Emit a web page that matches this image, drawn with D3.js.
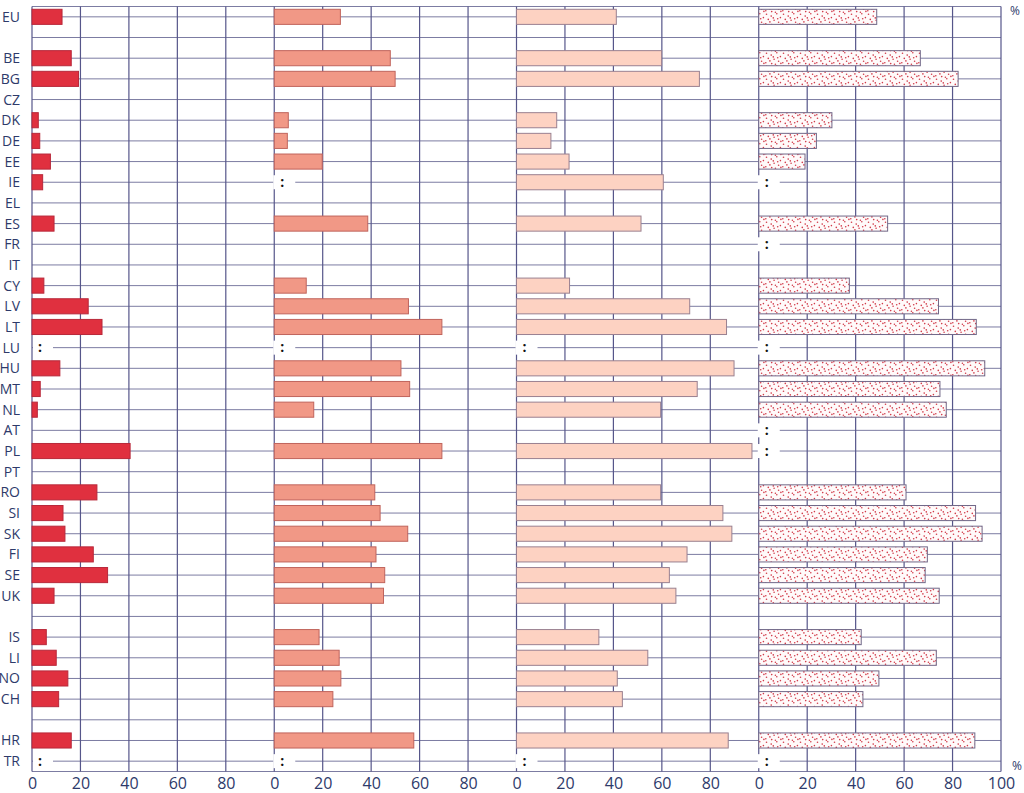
<!DOCTYPE html>
<html>
    <head>
        <meta charset="UTF-8">
        <script src="https://d3js.org/d3.v7.min.js"></script>
        <style>
            body { margin: 0; background: #fff; }
            text { font-family: "Open Sans", sans-serif; fill: #2e3a6a; }
        </style>
    </head>
    <body>
        <div id="chart"></div>
        <script type="text/javascript">
            // rows, "" = spacer row
            var rows = ["EU", "", "BE", "BG", "CZ", "DK", "DE", "EE", "IE", "EL", "ES", "FR", "IT", "CY", "LV", "LT", "LU",
                        "HU", "MT", "NL", "AT", "PL", "PT", "RO", "SI", "SK", "FI", "SE", "UK", "", "IS", "LI", "NO", "CH",
                        "", "HR", "TR"];

            // null = nothing shown, ":" = not available
            var N = null, NA = ":";
            var series1 = [12.4, N, 16.2, 19.2, N, 2.6, 3.2, 7.6, 4.4, N, 9.1, N, N, 4.9, 23.2, 28.9, NA,
                           11.5, 3.4, 2.2, N, 40.5, N, 26.8, 12.8, 13.6, 25.3, 31.2, 9.1, N, 5.9, 10.0, 14.8, 11.0,
                           N, 16.2, NA];
            var series2 = [27.3, N, 47.9, 49.9, N, 5.8, 5.4, 19.8, NA, N, 38.6, N, N, 13.2, 55.4, 69.2, NA,
                           52.3, 55.9, 16.3, N, 69.2, N, 41.5, 43.7, 55.1, 42.0, 45.6, 45.1, N, 18.5, 26.8, 27.5, 24.2,
                           N, 57.6, NA];
            var series3 = [41.2, N, 59.9, 75.5, N, 16.6, 14.2, 21.7, 60.6, N, 51.4, N, N, 21.9, 71.5, 86.7, NA,
                           89.8, 74.6, 59.5, N, 97.2, N, 59.5, 85.2, 88.9, 70.4, 63.1, 65.8, N, 34.0, 54.2, 41.6, 43.7,
                           N, 87.4, NA];
            var series4 = [48.7, N, 66.7, 82.3, N, 30.2, 23.8, 19.1, NA, N, 53.2, NA, N, 37.4, 74.2, 89.8, NA,
                           93.3, 74.8, 77.4, NA, NA, N, 60.8, 89.5, 92.2, 69.6, 68.7, 74.5, N, 42.3, 73.3, 49.6, 43.0,
                           N, 89.2, NA];

            var tickValues = [0, 20, 40, 60, 80];
            var tickValuesLast = [0, 20, 40, 60, 80, 100];

            var width = 1024, height = 793;
            var left = 32, panelW = 242.25;
            var topY = 6.5, bottomY = 771.5;

            var panels = [
                {values: series1, fill: "#e0303f", stroke: "#b8283a"},
                {values: series2, fill: "#f19886", stroke: "#c0645c"},
                {values: series3, fill: "#fdd2c2", stroke: "#9a8090"},
                {values: series4, fill: "url(#dots)", stroke: "#716888"}
            ];

            var svg = d3.select("#chart")
                    .append("svg")
                    .attr("width", width)
                    .attr("height", height);

            // speckled fill for the last series
            var pat = svg.append("defs").append("pattern")
                    .attr("id", "dots")
                    .attr("patternUnits", "userSpaceOnUse")
                    .attr("width", 17)
                    .attr("height", 13);
            pat.append("rect").attr("width", 17).attr("height", 13).attr("fill", "#fffafa");
            [[1.5, 1.2], [6.2, 3.1], [11.8, 0.8], [15.4, 4.6], [3.3, 6.4], [9.1, 7.2], [13.6, 9.3],
             [0.8, 10.7], [6.7, 11.6], [10.4, 12.2], [4.9, 8.9], [15.9, 11.4], [8.3, 4.9], [12.7, 5.8]].forEach(function(p) {
                pat.append("circle").attr("cx", p[0]).attr("cy", p[1]).attr("r", 0.8).attr("fill", "#d23b4a");
            });

            var yscale = d3.scaleBand()
                    .domain(d3.range(rows.length))
                    .range([topY, bottomY])
                    .paddingInner(0.27)
                    .paddingOuter(0.135);
            var yc = i => yscale(i) + yscale.bandwidth() / 2;

            var xscales = panels.map((p, k) => d3.scaleLinear()
                    .domain([0, 100])
                    .range([left + k * panelW, left + (k + 1) * panelW]));
            var xEnd = left + 4 * panelW;

            // horizontal grid
            svg.append("g")
                .selectAll("line")
                .data([topY, bottomY].concat(rows.map((r, i) => yc(i))))
                .enter()
                .append("line")
                .attr("x1", left)
                .attr("x2", xEnd)
                .attr("y1", d => d)
                .attr("y2", d => d)
                .attr("stroke", "#7c7ca2")
                .attr("stroke-width", 1);

            // vertical grid
            var vlines = [];
            xscales.forEach((x, k) => {
                (k == 3 ? tickValuesLast : tickValues).forEach(t => vlines.push(x(t)));
            });
            svg.append("g")
                .selectAll("line")
                .data(vlines)
                .enter()
                .append("line")
                .attr("x1", d => d)
                .attr("x2", d => d)
                .attr("y1", topY)
                .attr("y2", bottomY)
                .attr("stroke", "#56568a")
                .attr("stroke-width", 1.2);

            panels.forEach(function(p, k) {
                var x = xscales[k];
                var g = svg.append("g");
                var data = p.values.map((v, i) => ({i: i, v: v}));

                g.selectAll("rect.bar")
                    .data(data.filter(d => typeof d.v === "number"))
                    .enter()
                    .append("rect")
                    .attr("class", "bar")
                    .attr("x", x(0))
                    .attr("y", d => yscale(d.i))
                    .attr("width", d => x(d.v) - x(0))
                    .attr("height", yscale.bandwidth())
                    .attr("fill", p.fill)
                    .attr("stroke", p.stroke)
                    .attr("stroke-width", 1);

                var na = data.filter(d => d.v === NA);
                var x0 = x(0) + (k == 0 ? 1 : -1);
                g.selectAll("rect.na")
                    .data(na)
                    .enter()
                    .append("rect")
                    .attr("class", "na")
                    .attr("x", x0)
                    .attr("y", d => yc(d.i) - 7)
                    .attr("width", x(0) + 21 - x0)
                    .attr("height", 14)
                    .attr("fill", "#fff");
                g.selectAll("text.na")
                    .data(na)
                    .enter()
                    .append("text")
                    .attr("class", "na")
                    .attr("x", x(0) + 8)
                    .attr("y", d => yc(d.i) + 4.5)
                    .attr("text-anchor", "middle")
                    .style("font-size", "14px")
                    .style("font-weight", "bold")
                    .style("fill", "#111")
                    .text(":");

                // axis
                var axis = d3.axisBottom(x)
                        .tickValues(k == 3 ? tickValuesLast : tickValues)
                        .tickSize(0)
                        .tickPadding(0);
                var ax = svg.append("g")
                    .attr("transform", "translate(0," + 789 + ")")
                    .call(axis);
                ax.select(".domain").remove();
                ax.selectAll("text")
                    .attr("dy", 0)
                    .attr("y", 0)
                    .style("font-size", "16px")
                    .style("font-family", "'Open Sans', sans-serif")
                    .style("fill", "#2e3a6a");
            });

            // row labels
            svg.append("g")
                .selectAll("text")
                .data(rows)
                .enter()
                .append("text")
                .attr("x", 20)
                .attr("y", (d, i) => yc(i) + 5)
                .attr("text-anchor", "end")
                .style("font-size", "14px")
                .text(d => d);

            svg.append("text").attr("x", 1010).attr("y", 15).style("font-size", "12px").text("%");
            svg.append("text").attr("x", 1012).attr("y", 770).style("font-size", "12px").text("%");
        </script>
    </body>
</html>
